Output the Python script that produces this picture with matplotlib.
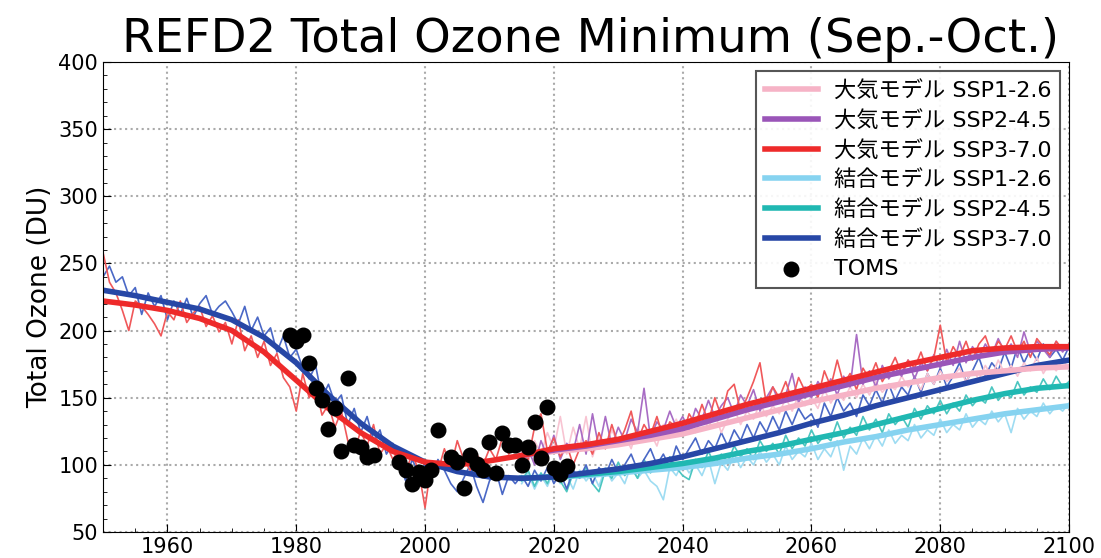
import numpy as np
import matplotlib
matplotlib.use('Agg')
from matplotlib import pyplot as plt
from matplotlib.ticker import MultipleLocator

plt.rcParams['font.family'] = ['DejaVu Sans', 'Noto Sans CJK JP']

# smoothed curves, every 5 years
yrs5 = np.arange(1950, 2101, 5)
atm370_smooth = [222, 219, 215, 209, 200, 184, 163, 142, 124, 110, 102, 100, 103, 107,
                 112, 115, 119, 125, 131, 138, 145, 151, 157, 163, 169, 175, 180, 185, 187, 188, 188]
cpl370_smooth = [230, 226, 221, 216, 208, 195, 176, 152, 131, 114, 102, 95, 91, 90,
                 91, 94, 97, 101, 106, 112, 118, 124, 131, 137, 144, 150, 156, 162, 168, 174, 178]
fut5 = np.arange(2015, 2101, 5)
atm245_smooth = [107, 111, 114, 118, 122, 127, 134, 141, 147, 153, 159, 165, 170, 175, 180, 184, 186, 187]
atm126_smooth = [107, 110, 112, 115, 119, 123, 129, 135, 141, 147, 152, 157, 161, 165, 168, 170, 172, 173]
cpl245_smooth = [90, 91, 93, 95, 98, 101, 105, 110, 114, 119, 124, 130, 136, 142, 148, 153, 157, 159]
cpl126_smooth = [90, 91, 92, 94, 96, 98, 101, 105, 108, 112, 117, 121, 126, 130, 134, 138, 141, 144]

# annual model values
yrs_all = np.arange(1950, 2101)
yrs_fut = np.arange(2015, 2101)
atm370 = [258, 236, 228, 215, 200, 222, 218, 212, 205, 196, 214, 208, 222, 206, 213, 218, 203, 211, 199, 206,
          190, 208, 185, 196, 180, 192, 174, 183, 165, 158, 140, 168, 150, 158, 137, 145, 128, 140, 118, 110,
          125, 114, 130, 108, 115, 104, 112, 95, 108, 96, 68, 102, 95, 112, 98, 118, 104, 96, 108, 100,
          112, 104, 120, 108, 116,
          112, 104, 128, 138, 110, 120, 106, 115, 100, 112, 118, 108, 124, 112, 130, 115, 126, 140, 118, 130,
          122, 136, 120, 132, 128, 122, 138, 130, 145, 132, 150, 136, 155, 160, 140, 150, 162, 176, 145, 158,
          150, 162, 148, 165, 155, 160, 150, 170, 158, 178, 160, 168, 156, 172, 164, 176, 162, 170, 180, 168,
          178, 172, 184, 170, 180, 204, 176, 188, 180, 192, 178, 190, 196, 182, 192, 186, 196, 184, 192, 180,
          194, 188, 182, 192, 186, 190]
cpl370 = [240, 248, 236, 240, 226, 232, 212, 228, 218, 226, 208, 222, 212, 224, 210, 220, 226, 212, 218, 222,
          214, 205, 218, 200, 210, 196, 202, 184, 196, 180, 186, 172, 164, 174, 150, 160, 146, 152, 130, 142,
          124, 136, 118, 126, 108, 116, 100, 88, 104, 94, 100, 90, 104, 96, 86, 80, 90, 100, 84, 72,
          88, 96, 78, 92, 86,
          92, 84, 96, 88, 98, 86, 94, 82, 96, 90, 100, 86, 98, 92, 104, 94, 100, 108, 96, 104,
          112, 100, 108, 98, 114, 104, 112, 120, 108, 118, 112, 124, 114, 126, 118, 130, 120, 132, 124, 136,
          126, 140, 130, 142, 134, 138, 128, 146, 136, 150, 140, 146, 136, 152, 144, 156, 146, 160, 148, 158,
          152, 166, 154, 168, 160, 172, 158, 166, 176, 162, 170, 180, 166, 176, 170, 184, 172, 188, 176, 186,
          178, 190, 180, 186, 178, 188]
atm245 = [104, 112, 100, 118, 106, 122, 104, 116, 110, 130, 108, 138, 112, 136, 114, 128, 118, 134, 124, 157,
          120, 132, 126, 140, 128, 136, 126, 142, 134, 148, 136, 144, 150, 138, 152, 144, 156, 140, 150, 158,
          146, 152, 168, 146, 158, 150, 162, 154, 164, 152, 166, 158, 197, 160, 170, 158, 174, 164, 172, 166,
          178, 164, 176, 170, 182, 172, 186, 174, 192, 176, 188, 180, 190, 182, 194, 184, 190, 180, 199, 184,
          192, 186, 180, 192, 184, 190]
atm126 = [110, 102, 118, 108, 124, 112, 136, 108, 128, 112, 136, 106, 120, 112, 126, 116, 122, 112, 128, 118,
          124, 114, 130, 120, 134, 122, 130, 124, 136, 128, 138, 124, 134, 142, 130, 140, 134, 146, 136, 144,
          138, 150, 140, 152, 144, 150, 142, 156, 146, 154, 148, 158, 150, 160, 152, 162, 154, 160, 156, 166,
          158, 164, 156, 168, 160, 170, 162, 166, 172, 162, 170, 164, 174, 166, 178, 168, 174, 166, 176, 170,
          180, 168, 176, 170, 178, 172]
cpl245 = [88, 96, 84, 94, 86, 98, 88, 80, 94, 90, 98, 86, 80, 96, 90, 102, 92, 98, 90, 104,
          94, 100, 96, 106, 98, 92, 89, 104, 98, 110, 100, 108, 102, 114, 106, 112, 104, 118, 110, 116,
          108, 122, 112, 120, 114, 126, 116, 122, 118, 132, 120, 128, 122, 136, 126, 134, 124, 138, 130, 136,
          128, 142, 134, 144, 138, 148, 138, 146, 140, 152, 144, 150, 146, 158, 148, 154, 150, 162, 152, 158,
          154, 164, 156, 166, 158, 162]
cpl126 = [86, 94, 82, 92, 84, 96, 86, 92, 82, 96, 88, 94, 84, 98, 88, 94, 86, 100, 90, 96,
          88, 84, 74, 98, 92, 102, 94, 100, 92, 104, 86, 102, 96, 108, 98, 106, 100, 110, 102, 108,
          100, 114, 104, 110, 106, 116, 104, 112, 106, 118, 96, 114, 108, 120, 112, 122, 114, 126, 116, 122,
          118, 130, 120, 126, 122, 134, 124, 130, 126, 138, 128, 134, 130, 140, 132, 138, 124, 142, 134, 140,
          136, 146, 138, 144, 140, 146]

# TOMS observations
toms_yrs = [1979, 1980, 1981, 1982, 1983, 1984, 1985, 1986, 1987, 1988, 1989, 1990, 1991, 1992,
            1996, 1997, 1998, 1999, 2000, 2001, 2002,
            2004, 2005, 2006, 2007, 2008, 2009, 2010, 2011, 2012, 2013, 2014, 2015, 2016, 2017, 2018,
            2019, 2020, 2021, 2022]
toms_val = [197, 192, 197, 176, 157, 148, 127, 142, 110, 165, 115, 113, 106, 107,
            102, 96, 86, 95, 89, 96, 126,
            106, 102, 83, 107, 101, 96, 117, 94, 124, 115, 115, 100, 113, 132, 105,
            143, 98, 93, 99]

labels = ['大気モデル SSP1-2.6', '大気モデル SSP2-4.5', '大気モデル SSP3-7.0',
          '結合モデル SSP1-2.6', '結合モデル SSP2-4.5', '結合モデル SSP3-7.0']
colors = ['#f6b3c6', '#9a55b8', '#ee2a2a', '#86d3f0', '#20b8b2', '#2747a6']
thin_colors = ['#f8c4d2', '#a86cc4', '#f0585a', '#9edcf2', '#4cc6c0', '#4a68c6']

fig = plt.figure(figsize=(11.01, 5.58), dpi=100)
ax = fig.add_axes([0.0936, 0.0466, 0.8774, 0.8424])

# thin annual lines
ax.plot(yrs_fut, cpl126, color=thin_colors[3], lw=1.2)
ax.plot(yrs_fut, cpl245, color=thin_colors[4], lw=1.2)
ax.plot(yrs_all, cpl370, color=thin_colors[5], lw=1.2)
ax.plot(yrs_fut, atm126, color=thin_colors[0], lw=1.2)
ax.plot(yrs_fut, atm245, color=thin_colors[1], lw=1.2)
ax.plot(yrs_all, atm370, color=thin_colors[2], lw=1.2)

# thick smoothed lines
ax.plot(fut5, cpl126_smooth, color=colors[3], lw=4, label=labels[3])
ax.plot(fut5, cpl245_smooth, color=colors[4], lw=4, label=labels[4])
ax.plot(yrs5, cpl370_smooth, color=colors[5], lw=4, label=labels[5])
ax.plot(fut5, atm126_smooth, color=colors[0], lw=4, label=labels[0])
ax.plot(fut5, atm245_smooth, color=colors[1], lw=4, label=labels[1])
ax.plot(yrs5, atm370_smooth, color=colors[2], lw=4, label=labels[2])

ax.scatter(toms_yrs, toms_val, s=110, color='black', zorder=5, label='TOMS')

ax.set_xlim(1950, 2100)
ax.set_ylim(50, 400)
ax.xaxis.set_major_locator(MultipleLocator(20))
ax.xaxis.set_minor_locator(MultipleLocator(5))
ax.yaxis.set_major_locator(MultipleLocator(50))
ax.yaxis.set_minor_locator(MultipleLocator(10))
ax.tick_params(which='both', direction='in', labelsize=15, colors='black')
ax.tick_params(which='major', length=6)
ax.tick_params(which='minor', length=3)
ax.grid(True, which='major', color='#aaaaaa', linestyle=':', lw=1.5)

ax.set_ylabel('Total Ozone (DU)', fontsize=19)
fig.text(0.536, 0.907, 'REFD2 Total Ozone Minimum (Sep.-Oct.)', fontsize=33.5,
         ha='center', va='baseline')

handles, lbls = ax.get_legend_handles_labels()
order = [3, 4, 5, 0, 1, 2, 6]
leg = ax.legend([handles[i] for i in order], [lbls[i] for i in order],
                loc='upper right', fancybox=False, framealpha=0.9,
                edgecolor='#444444', handlelength=2.4, handletextpad=0.7,
                labelspacing=0.4, borderaxespad=0.4,
                prop={'family': ['DejaVu Sans', 'Noto Sans CJK JP'], 'size': 16})
leg.get_frame().set_linewidth(1.5)

fig.savefig('out.png', dpi=100)
